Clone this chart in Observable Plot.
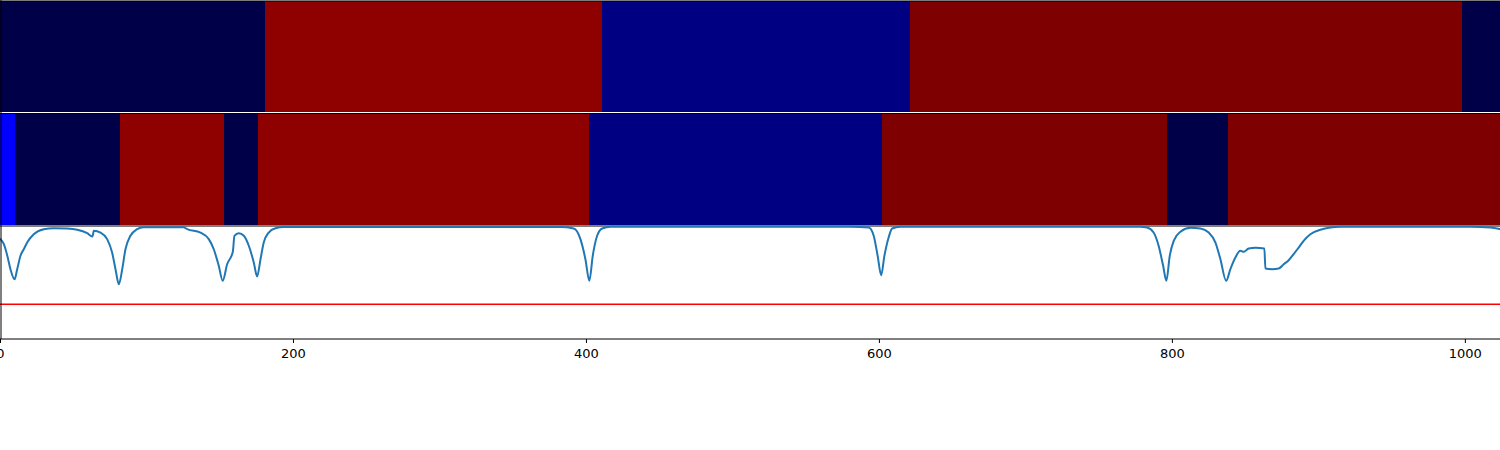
<!DOCTYPE html>
<html>
<head>
<meta charset="utf-8">
<script src="https://cdn.jsdelivr.net/npm/d3@7"></script>
<script src="https://cdn.jsdelivr.net/npm/@observablehq/plot@0.6"></script>
<style>
  html, body { margin: 0; padding: 0; background: white; }
  #chart svg { display: block; }
  #chart svg text { font-family: "DejaVu Sans", sans-serif; font-size: 13px; fill: black; }
</style>
</head>
<body>
<div id="chart"></div>
<script>
// ---- data ----
const classNames = ["c0", "c1", "c2", "c3", "c4"];
const classColors = ["#000048", "#000082", "#0000ff", "#8f0000", "#7f0000"];

// top row (ground truth) segments
const topStarts  = [0, 181, 411, 621, 998];
const topEnds    = [181, 411, 621, 998, 1024];
const topClasses = ["c0", "c3", "c1", "c4", "c0"];

// middle row (prediction) segments
const midStarts  = [0, 10, 82, 153, 176, 402, 602, 796.5, 838];
const midEnds    = [10, 82, 153, 176, 402, 602, 796.5, 838, 1024];
const midClasses = ["c2", "c0", "c3", "c0", "c3", "c1", "c4", "c0", "c4"];

// bottom row curve
const curveX = [0, 2.3, 4.6, 6.8, 9.6, 11.4, 13.7, 15.9, 18.2, 22.7, 29.6, 36.2, 45.5, 52.4, 59.2, 62.8, 63.7, 68.3, 72.8, 76.2, 78.5, 80.8, 83.1, 85.3, 88.7, 93.3, 97.6, 124.9, 127.4, 136.5, 142.2, 145.6, 149.0, 151.7, 154.7, 158.6, 159.7, 162.7, 166.1, 169.5, 172.9, 175.2, 177.5, 179.7, 183.1, 187.7, 193.4, 382.3, 391.3, 395.9, 399.3, 402.0, 404.3, 407.3, 410.7, 416.4, 580.2, 592.7, 596.1, 598.8, 601.2, 603.4, 606.3, 608.7, 614.3, 778.2, 782.7, 787.2, 790.6, 793.7, 795.9, 798.2, 800.9, 805.5, 812.3, 819.1, 824.8, 829.4, 832.8, 836.7, 839.6, 843.0, 846.4, 848.7, 852.1, 856.7, 862.8, 863.5, 868.1, 872.6, 876.0, 879.4, 882.8, 886.2, 889.6, 894.2, 901.0, 907.8, 914.7, 1003.4, 1017.1, 1023.9];
const curveY = [0.887, 0.842, 0.741, 0.619, 0.529, 0.619, 0.741, 0.797, 0.857, 0.931, 0.976, 0.985, 0.982, 0.971, 0.940, 0.911, 0.962, 0.946, 0.887, 0.768, 0.619, 0.485, 0.619, 0.797, 0.917, 0.976, 0.994, 0.994, 0.976, 0.946, 0.887, 0.797, 0.649, 0.515, 0.663, 0.774, 0.917, 0.940, 0.917, 0.828, 0.679, 0.554, 0.708, 0.857, 0.946, 0.985, 0.996, 0.995, 0.982, 0.887, 0.708, 0.515, 0.738, 0.917, 0.982, 0.997, 0.997, 0.991, 0.917, 0.738, 0.565, 0.738, 0.902, 0.982, 0.997, 0.997, 0.991, 0.946, 0.828, 0.649, 0.515, 0.738, 0.872, 0.953, 0.988, 0.982, 0.946, 0.857, 0.708, 0.515, 0.619, 0.723, 0.783, 0.774, 0.804, 0.810, 0.804, 0.625, 0.619, 0.625, 0.663, 0.699, 0.753, 0.812, 0.872, 0.931, 0.971, 0.991, 0.997, 0.997, 0.991, 0.976];
const threshold = 0.305;

const xTicks = [0, 200, 400, 600, 800, 1000];

// ---- layout helpers ----
const W = 1500, H = 450;
const axisY = 338;          // pixel row of the x axis
const panelPx = 112;        // pixel height of one y unit
const v = py => (axisY - py) / panelPx;   // pixel row -> y value

const topRows = topStarts.map((s, i) => ({x1: s, x2: topEnds[i], c: topClasses[i]}));
const midRows = midStarts.map((s, i) => ({x1: s, x2: midEnds[i], c: midClasses[i]}));
const curve = curveX.map((x, i) => ({x, y: curveY[i]}));

const chart = Plot.plot({
  width: W,
  height: H,
  marginLeft: 0,
  marginRight: 0,
  marginTop: 0,
  marginBottom: H - axisY,
  style: {fontFamily: "DejaVu Sans", fontSize: "13px", color: "black", background: "white"},
  x: {domain: [0, 1024]},
  y: {domain: [0, axisY / panelPx], axis: null},
  color: {type: "ordinal", domain: classNames, range: classColors},
  marks: [
    Plot.rect(topRows, {x1: "x1", x2: "x2", y1: v(111.5), y2: v(1), fill: "c", shapeRendering: "crispEdges"}),
    Plot.rect(midRows, {x1: "x1", x2: "x2", y1: v(225), y2: v(113.5), fill: "c", shapeRendering: "crispEdges"}),
    Plot.ruleY([v(0.5)], {stroke: "black", strokeWidth: 1}),
    Plot.ruleY([v(112)], {stroke: "white", strokeWidth: 1}),
    Plot.ruleY([v(113)], {stroke: "black", strokeWidth: 1}),
    Plot.ruleY([v(225.5)], {stroke: "black", strokeWidth: 1}),
    Plot.ruleY([threshold], {stroke: "red", strokeWidth: 1.5}),
    Plot.line(curve, {x: "x", y: "y", stroke: "#1f77b4", strokeWidth: 2, curve: "monotone-x"}),
    Plot.ruleY([v(axisY + 0.5)], {stroke: "black", strokeWidth: 1}),
    Plot.ruleX([0], {y1: v(0), y2: v(axisY + 1), stroke: "black", strokeWidth: 1, dx: 0.5}),
    Plot.axisX({ticks: xTicks, tickFormat: d3.format("d"), tickSize: 4, tickPadding: 5, label: null, dy: 1, fontSize: 13})
  ]
});
document.getElementById("chart").appendChild(chart);
</script>
</body>
</html>
